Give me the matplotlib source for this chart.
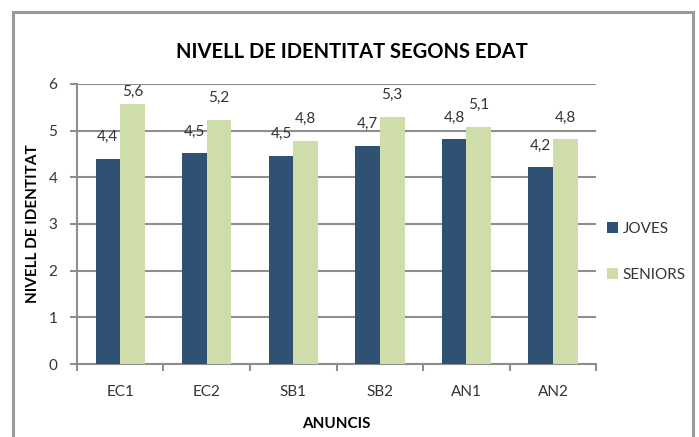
import numpy as np
import matplotlib.pyplot as plt
from matplotlib.patches import Rectangle

plt.rcParams['font.family'] = ['Lato', 'DejaVu Sans']

anuncis = ['EC1', 'EC2', 'SB1', 'SB2', 'AN1', 'AN2']
joves = [4.39, 4.51, 4.46, 4.67, 4.81, 4.21]
seniors = [5.56, 5.22, 4.78, 5.30, 5.08, 4.81]

color_joves = '#2F5274'
color_seniors = '#CFDDAB'
gris = '#8E8E8E'

fig = plt.figure(figsize=(6.99, 4.37), dpi=100)
ax = fig.add_axes([0.110, 0.167, 0.743, 0.641])

x = np.arange(len(anuncis))
w = 0.285
b1 = ax.bar(x - w / 2, joves, w, color=color_joves, label='JOVES', zorder=3)
b2 = ax.bar(x + w / 2, seniors, w, color=color_seniors, label='SENIORS', zorder=3)

# etiquetes de valor amb coma decimal
for barres, vals in [(b1, joves), (b2, seniors)]:
    for bar, v in zip(barres, vals):
        ytxt = min(v + 0.47, 5.83)
        ax.text(bar.get_x() + bar.get_width() / 2, ytxt, f'{v:.1f}'.replace('.', ','),
                ha='center', va='center', fontsize=11, color='#333333', zorder=4)

ax.set_xlim(-0.5, len(anuncis) - 0.5)
ax.set_ylim(0, 6)
ax.set_yticks(range(7))
ax.set_xticks(x)
ax.set_xticklabels(anuncis)
ax.set_xticks(np.arange(len(anuncis) + 1) - 0.5, minor=True)
ax.tick_params(axis='x', which='major', length=0, pad=15, labelsize=11, labelcolor='#333333')
ax.tick_params(axis='x', which='minor', length=5, width=1.5, color=gris, direction='out')
ax.tick_params(axis='y', length=5, width=1.5, color=gris, labelsize=11, labelcolor='#333333', pad=9)

ax.grid(axis='y', color=gris, linewidth=1.5, zorder=0)
for s in ['top', 'right']:
    ax.spines[s].set_visible(False)
for s in ['left', 'bottom']:
    ax.spines[s].set_color(gris)
    ax.spines[s].set_linewidth(1.5)

fig.text(0.503, 0.88, 'NIVELL DE IDENTITAT SEGONS EDAT', fontsize=14.5,
         fontweight='bold', ha='center', va='center')
ax.set_xlabel('ANUNCIS', fontsize=11, fontweight='bold', labelpad=13)
ax.set_ylabel('NIVELL DE IDENTITAT', fontsize=11, fontweight='bold', labelpad=6)

ax.legend(loc='center left', bbox_to_anchor=(0.995, 0.40), frameon=False,
          fontsize=11, handlelength=0.7, handleheight=0.7, handletextpad=0.3,
          labelspacing=2.1, labelcolor='#333333')

# marc del gràfic
fig.patches.append(Rectangle((13 / 699, -0.05), 680 / 699, 1.05 - 12 / 437,
                             transform=fig.transFigure, fill=False,
                             edgecolor='#9A9A9A', linewidth=2.2))

fig.savefig('out.png', dpi=100)
